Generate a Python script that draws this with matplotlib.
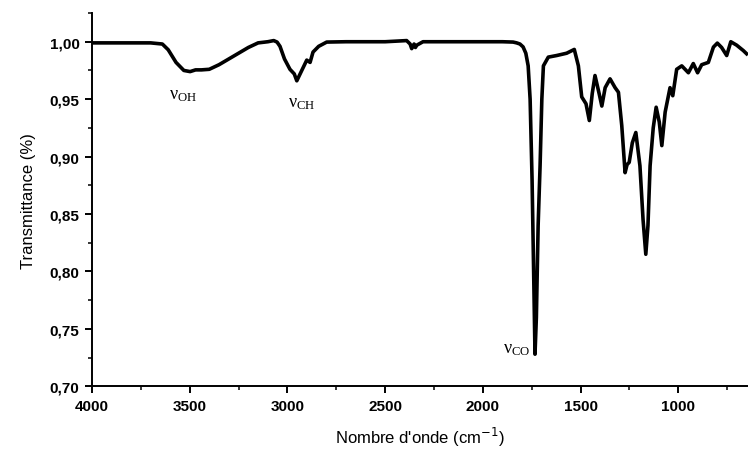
import numpy as np
import matplotlib
matplotlib.use("Agg")
import matplotlib.pyplot as plt
from matplotlib.ticker import MultipleLocator, FuncFormatter

# IR spectrum (wavenumber cm-1, transmittance)
wavenumber = [4000, 3900, 3800, 3700, 3640, 3610, 3570, 3530, 3498, 3470, 3440, 3400,
              3350, 3300, 3250, 3200, 3150, 3100, 3070, 3053, 3038, 3015, 2987, 2965,
              2952, 2935, 2901, 2884, 2869, 2840, 2799, 2700, 2500, 2390, 2372, 2364,
              2352, 2345, 2338, 2306, 2100, 1900, 1845, 1827, 1810, 1794, 1780, 1768,
              1758, 1748, 1740, 1733, 1726, 1717, 1707, 1698, 1690, 1665, 1622, 1571,
              1532, 1511, 1494, 1472, 1455, 1440, 1426, 1405, 1391, 1374, 1349, 1323,
              1306, 1289, 1272, 1262, 1251, 1235, 1217, 1196, 1180, 1166, 1155, 1144,
              1128, 1113, 1097, 1084, 1067, 1042, 1028, 1008, 982, 948, 923, 901, 880,
              846, 820, 800, 778, 752, 731, 701, 667, 650]
transmit = [0.999, 0.999, 0.999, 0.999, 0.998, 0.993, 0.982, 0.975, 0.974, 0.9755, 0.9755, 0.976,
            0.980, 0.985, 0.990, 0.995, 0.999, 1.000, 1.001, 0.9997, 0.996, 0.985, 0.976, 0.972,
            0.966, 0.972, 0.984, 0.982, 0.991, 0.996, 0.9997, 1.000, 1.000, 1.001, 0.998, 0.994,
            0.998, 0.995, 0.997, 1.000, 1.000, 1.000, 0.9997, 0.999, 0.998, 0.9955, 0.99, 0.979,
            0.950, 0.88, 0.80, 0.728, 0.76, 0.84, 0.892, 0.95, 0.979, 0.9866, 0.988, 0.990,
            0.9933, 0.979, 0.952, 0.946, 0.9314, 0.955, 0.9706, 0.955, 0.944, 0.960, 0.9677, 0.960,
            0.956, 0.927, 0.886, 0.893, 0.895, 0.912, 0.921, 0.892, 0.845, 0.815, 0.84, 0.892,
            0.925, 0.943, 0.93, 0.9096, 0.9387, 0.960, 0.953, 0.976, 0.979, 0.973, 0.981, 0.973, 0.980,
            0.982, 0.9953, 0.9988, 0.995, 0.988, 1.000, 0.997, 0.9923, 0.9895]

labels = [r"$\mathregular{\nu_{OH}}$", r"$\mathregular{\nu_{CH}}$", r"$\mathregular{\nu_{CO}}$"]
label_pos = [(3535, 0.954), (2925, 0.947), (1825, 0.733)]

plt.rcParams["font.family"] = ["Liberation Sans", "DejaVu Sans"]

fig = plt.figure(figsize=(7.48, 4.52), dpi=100)
ax = fig.add_axes([0.123, 0.143, 0.877, 0.826])

ax.plot(wavenumber, transmit, color="black", lw=2.6, solid_joinstyle="round")

for txt, (x, y) in zip(labels, label_pos):
    ax.text(x, y, txt, ha="center", va="center", fontsize=13,
            family=["Liberation Serif", "DejaVu Serif"])

ax.set_xlim(4000, 643)
ax.set_ylim(0.70, 1.025)
ax.xaxis.set_major_locator(MultipleLocator(500))
ax.xaxis.set_minor_locator(MultipleLocator(250))
ax.yaxis.set_major_locator(MultipleLocator(0.05))
ax.yaxis.set_minor_locator(MultipleLocator(0.025))
ax.yaxis.set_major_formatter(FuncFormatter(lambda v, p: f"{v:.2f}".replace(".", ",")))

for s in ("top", "right"):
    ax.spines[s].set_visible(False)
for s in ("left", "bottom"):
    ax.spines[s].set_linewidth(1.4)
ax.tick_params(which="major", direction="out", length=5, width=1.4, labelsize=11, pad=4)
ax.tick_params(which="minor", direction="out", length=3, width=1.1)
for lab in ax.get_xticklabels() + ax.get_yticklabels():
    lab.set_fontweight("bold")

ax.set_xlabel("Nombre d'onde (cm$^{-1}$)", fontsize=12, labelpad=9)
ax.set_ylabel("Transmittance (%)", fontsize=12, labelpad=10)

fig.savefig("out.png", dpi=100)
